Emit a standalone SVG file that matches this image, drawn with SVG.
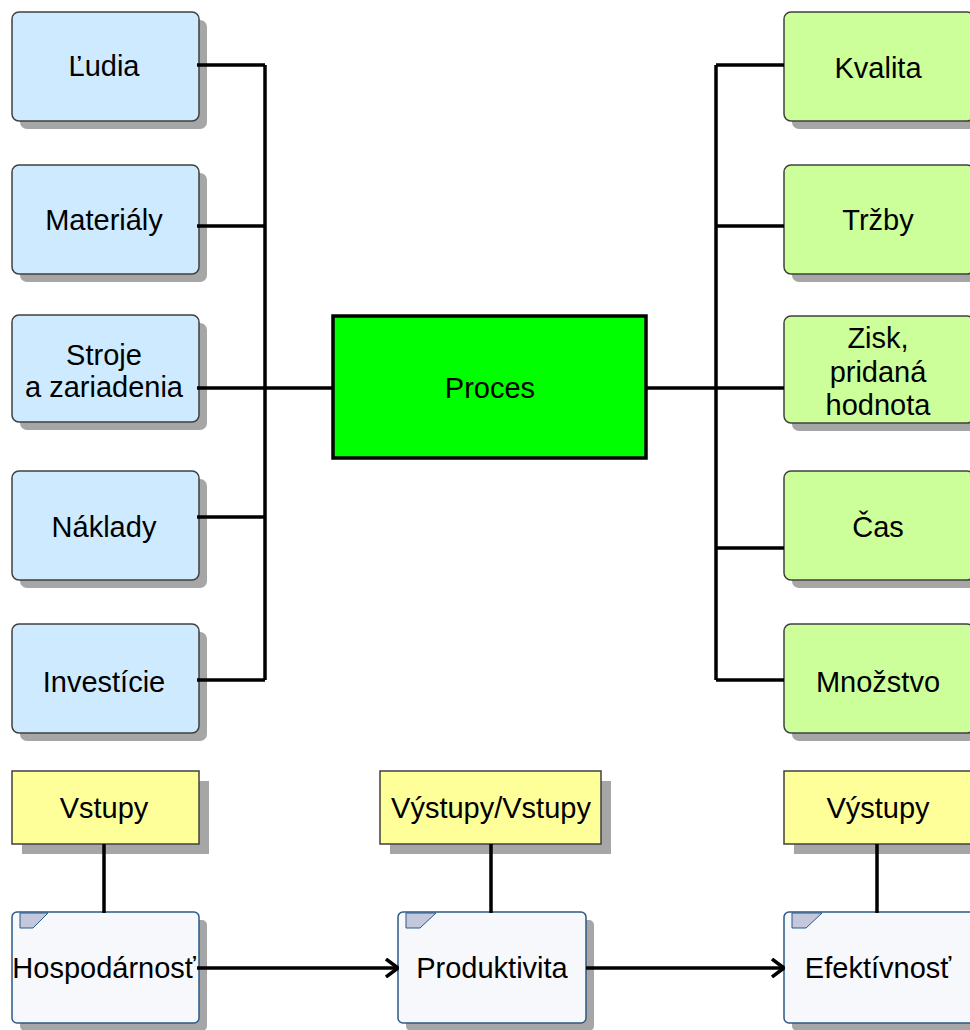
<svg xmlns="http://www.w3.org/2000/svg" width="970" height="1030" viewBox="0 0 970 1030">
<style>
text{font-family:"Liberation Sans",Arial,sans-serif;font-size:29px;fill:#000;text-anchor:middle}
.sh{fill:#a6a6a6}
.in{fill:#cdeaff;stroke:#404040;stroke-width:1.5}
.out{fill:#ccff99;stroke:#404040;stroke-width:1.5}
.ye{fill:#ffff99;stroke:#404040;stroke-width:1.5}
.ef{fill:#f6f8fc;stroke:#2c5885;stroke-width:1.5}
.tab{fill:#c3c8dc;stroke:#2c5885;stroke-width:1}
.c{fill:none;stroke:#000;stroke-width:3.5}
</style>
<defs>
<marker id="ar" viewBox="0 0 14 20" refX="13" refY="10" markerWidth="14" markerHeight="20" markerUnits="userSpaceOnUse" orient="auto">
<path d="M1,1 L13,10 L1,19" fill="none" stroke="#000" stroke-width="3.5"/>
</marker>
</defs>
<g id="n-ludia"><rect class="sh" x="20" y="20" width="187" height="109" rx="7"/><rect class="in" x="12" y="12" width="187" height="109" rx="7"/><text x="104" y="76">Ľudia</text></g>
<g id="n-materialy"><rect class="sh" x="20" y="173" width="187" height="109" rx="7"/><rect class="in" x="12" y="165" width="187" height="109" rx="7"/><text x="104" y="230">Materiály</text></g>
<g id="n-stroje"><rect class="sh" x="20" y="323" width="187" height="107" rx="7"/><rect class="in" x="12" y="315" width="187" height="107" rx="7"/><text x="104" y="365">Stroje</text><text x="104" y="397">a zariadenia</text></g>
<g id="n-naklady"><rect class="sh" x="20" y="479" width="187" height="109" rx="7"/><rect class="in" x="12" y="471" width="187" height="109" rx="7"/><text x="104" y="537">Náklady</text></g>
<g id="n-investicie"><rect class="sh" x="20" y="632" width="187" height="109" rx="7"/><rect class="in" x="12" y="624" width="187" height="109" rx="7"/><text x="104" y="692">Investície</text></g>
<g id="n-proces"><rect x="333" y="316" width="313" height="142" fill="#00ff00" stroke="#000" stroke-width="3.5"/><text x="490" y="398">Proces</text></g>
<g id="n-kvalita"><rect class="sh" x="792" y="20" width="190" height="109" rx="7"/><rect class="out" x="784" y="12" width="190" height="109" rx="7"/><text x="878" y="78">Kvalita</text></g>
<g id="n-trzby"><rect class="sh" x="792" y="173" width="190" height="109" rx="7"/><rect class="out" x="784" y="165" width="190" height="109" rx="7"/><text x="878" y="230">Tržby</text></g>
<g id="n-zisk"><rect class="sh" x="792" y="324" width="190" height="107" rx="7"/><rect class="out" x="784" y="316" width="190" height="107" rx="7"/><text x="878" y="348">Zisk,</text><text x="878" y="382">pridaná</text><text x="878" y="415">hodnota</text></g>
<g id="n-cas"><rect class="sh" x="792" y="479" width="190" height="109" rx="7"/><rect class="out" x="784" y="471" width="190" height="109" rx="7"/><text x="878" y="537">Čas</text></g>
<g id="n-mnozstvo"><rect class="sh" x="792" y="632" width="190" height="109" rx="7"/><rect class="out" x="784" y="624" width="190" height="109" rx="7"/><text x="878" y="692">Množstvo</text></g>
<g id="n-vstupy"><rect class="sh" x="22" y="781" width="187" height="73"/><rect class="ye" x="12" y="771" width="187" height="73"/><text x="104" y="818">Vstupy</text></g>
<g id="n-vystupyvstupy"><rect class="sh" x="390" y="781" width="221" height="73"/><rect class="ye" x="380" y="771" width="221" height="73"/><text x="491" y="818">Výstupy/Vstupy</text></g>
<g id="n-vystupy"><rect class="sh" x="794" y="781" width="190" height="73"/><rect class="ye" x="784" y="771" width="190" height="73"/><text x="878" y="818">Výstupy</text></g>
<g id="n-hospodarnost"><rect class="sh" x="20" y="920" width="187" height="111" rx="5"/><rect class="ef" x="12" y="912" width="187" height="111" rx="5"/><path class="tab" d="M20,913 H48 L33,928 H20 Z"/><text x="104" y="978">Hospodárnosť</text></g>
<g id="n-produktivita"><rect class="sh" x="406" y="920" width="188" height="111" rx="5"/><rect class="ef" x="398" y="912" width="188" height="111" rx="5"/><path class="tab" d="M406,913 H436 L420,928 H406 Z"/><text x="492" y="978">Produktivita</text></g>
<g id="n-efektivnost"><rect class="sh" x="792" y="920" width="190" height="111" rx="5"/><rect class="ef" x="784" y="912" width="190" height="111" rx="5"/><path class="tab" d="M792,913 H822 L806,928 H792 Z"/><text x="878" y="978">Efektívnosť</text></g>
<g id="connectors">
<path class="c" d="M197,65 H265 M197,226 H265 M197,388 H333 M197,517 H265 M197,680 H265 M265,65 V680"/>
<path class="c" d="M784,65 H716 M784,226 H716 M646,388 H784 M784,548 H716 M784,680 H716 M716,65 V680"/>
<path class="c" d="M104,844 V913 M491,844 V913 M877,844 V913"/>
<path class="c" d="M197,968 H398" marker-end="url(#ar)"/>
<path class="c" d="M586,968 H784" marker-end="url(#ar)"/>
</g>
</svg>
